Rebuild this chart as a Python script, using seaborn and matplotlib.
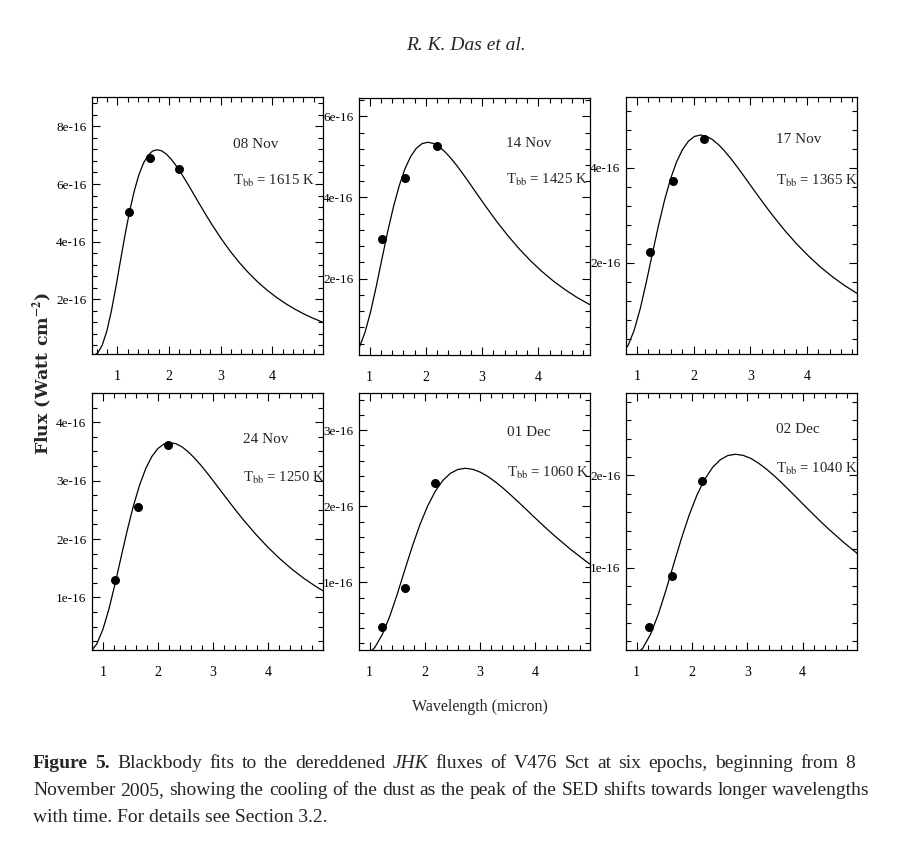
import matplotlib
matplotlib.use("Agg")
import matplotlib.pyplot as plt
import seaborn as sns
import pandas as pd
from matplotlib.ticker import MultipleLocator, FixedLocator, FixedFormatter

# epochs and fitted blackbody temperatures
epochs = ["08 Nov", "14 Nov", "17 Nov", "24 Nov", "01 Dec", "02 Dec"]
t_bb = [1615, 1425, 1365, 1250, 1060, 1040]

# JHK photometry (micron, flux in 1e-16 W cm^-2)
jhk_wave = [1.225, 1.635, 2.19]
flux_08nov = [5.02, 6.92, 6.52]
flux_14nov = [2.97, 4.47, 5.26]
flux_17nov = [2.22, 3.73, 4.60]
flux_24nov = [1.30, 2.54, 3.61]
flux_01dec = [0.41, 0.92, 2.31]
flux_02dec = [0.35, 0.91, 1.94]

# blackbody curves
bb_wave_08nov = [0.531, 0.620, 0.708, 0.797, 0.885, 0.974, 1.062, 1.151, 1.239, 1.328,
                 1.416, 1.505, 1.593, 1.682, 1.770, 1.859, 1.947, 2.036, 2.124, 2.213,
                 2.301, 2.390, 2.478, 2.567, 2.655, 2.744, 2.832, 3.009, 3.186, 3.363,
                 3.540, 3.717, 3.894, 4.071, 4.248, 4.425, 4.602, 4.779, 4.956, 5.133]
bb_flux_08nov = [0.027, 0.134, 0.406, 0.896, 1.594, 2.442, 3.354, 4.249, 5.064, 5.758,
                 6.311, 6.720, 6.993, 7.144, 7.190, 7.150, 7.040, 6.875, 6.670, 6.437,
                 6.183, 5.919, 5.648, 5.376, 5.107, 4.844, 4.589, 4.106, 3.665, 3.269,
                 2.915, 2.600, 2.322, 2.076, 1.859, 1.667, 1.498, 1.348, 1.216, 1.099]

bb_wave_14nov = [0.712, 0.814, 0.915, 1.017, 1.119, 1.220, 1.322, 1.424, 1.526, 1.627,
                 1.729, 1.831, 1.932, 2.034, 2.136, 2.237, 2.339, 2.441, 2.543, 2.644,
                 2.746, 2.848, 2.949, 3.051, 3.153, 3.254, 3.458, 3.661, 3.865, 4.068,
                 4.271, 4.475, 4.678, 4.882, 5.085]
bb_flux_14nov = [0.100, 0.303, 0.668, 1.188, 1.821, 2.500, 3.168, 3.775, 4.292, 4.704,
                 5.009, 5.213, 5.326, 5.360, 5.330, 5.249, 5.125, 4.972, 4.799, 4.610,
                 4.412, 4.210, 4.008, 3.807, 3.611, 3.421, 3.061, 2.733, 2.437, 2.173,
                 1.938, 1.731, 1.547, 1.386, 1.242]

bb_wave_17nov = [0.743, 0.849, 0.955, 1.062, 1.168, 1.274, 1.380, 1.486, 1.592, 1.698,
                 1.805, 1.911, 2.017, 2.123, 2.229, 2.335, 2.441, 2.548, 2.654, 2.760,
                 2.866, 2.972, 3.078, 3.185, 3.291, 3.397, 3.609, 3.821, 4.034, 4.246,
                 4.458, 4.671, 4.883, 5.095]
bb_flux_17nov = [0.088, 0.265, 0.584, 1.040, 1.593, 2.188, 2.772, 3.303, 3.756, 4.116,
                 4.383, 4.562, 4.660, 4.690, 4.664, 4.592, 4.485, 4.351, 4.199, 4.033,
                 3.861, 3.684, 3.507, 3.331, 3.160, 2.993, 2.678, 2.391, 2.133, 1.901,
                 1.696, 1.514, 1.354, 1.212]

bb_wave_24nov = [0.777, 0.888, 0.999, 1.110, 1.221, 1.332, 1.443, 1.554, 1.665, 1.776,
                 1.887, 1.998, 2.109, 2.220, 2.331, 2.442, 2.553, 2.664, 2.775, 2.886,
                 2.997, 3.108, 3.219, 3.330, 3.441, 3.552, 3.774, 3.996, 4.218, 4.440,
                 4.662, 4.884, 5.106]
bb_flux_24nov = [0.068, 0.206, 0.455, 0.809, 1.240, 1.703, 2.157, 2.571, 2.923, 3.204,
                 3.411, 3.550, 3.627, 3.650, 3.630, 3.574, 3.490, 3.386, 3.268, 3.139,
                 3.005, 2.867, 2.729, 2.593, 2.459, 2.329, 2.085, 1.861, 1.660, 1.480,
                 1.320, 1.179, 1.054]

bb_wave_01dec = [0.957, 1.094, 1.230, 1.367, 1.504, 1.640, 1.777, 1.914, 2.051, 2.187,
                 2.324, 2.461, 2.597, 2.734, 2.871, 3.007, 3.144, 3.281, 3.418, 3.554,
                 3.691, 3.828, 3.964, 4.101, 4.238, 4.374, 4.648, 4.921, 5.195]
bb_flux_01dec = [0.047, 0.141, 0.312, 0.554, 0.849, 1.166, 1.478, 1.761, 2.002, 2.194,
                 2.337, 2.432, 2.484, 2.500, 2.486, 2.448, 2.391, 2.319, 2.238, 2.150,
                 2.058, 1.964, 1.869, 1.776, 1.684, 1.596, 1.428, 1.275, 1.137]

bb_wave_02dec = [0.975, 1.115, 1.254, 1.394, 1.533, 1.672, 1.812, 1.951, 2.090, 2.230,
                 2.369, 2.508, 2.648, 2.787, 2.926, 3.066, 3.205, 3.344, 3.484, 3.623,
                 3.762, 3.902, 4.041, 4.181, 4.320, 4.459, 4.738, 5.017]
bb_flux_02dec = [0.042, 0.126, 0.278, 0.494, 0.758, 1.040, 1.318, 1.571, 1.786, 1.957,
                 2.084, 2.169, 2.216, 2.230, 2.218, 2.184, 2.132, 2.069, 1.997, 1.918,
                 1.836, 1.752, 1.667, 1.584, 1.502, 1.423, 1.274, 1.137]

x_ticks = [1, 2, 3, 4]
x_tick_labels = ["1", "2", "3", "4"]
y_ticks_08nov = [2, 4, 6, 8]
y_ticks_14nov = [2, 4, 6]
y_ticks_17nov = [2, 4]
y_ticks_24nov = [1, 2, 3, 4]
y_ticks_01dec = [1, 2, 3]
y_ticks_02dec = [1, 2]

points = [flux_08nov, flux_14nov, flux_17nov, flux_24nov, flux_01dec, flux_02dec]
curves = [(bb_wave_08nov, bb_flux_08nov), (bb_wave_14nov, bb_flux_14nov),
          (bb_wave_17nov, bb_flux_17nov), (bb_wave_24nov, bb_flux_24nov),
          (bb_wave_01dec, bb_flux_01dec), (bb_wave_02dec, bb_flux_02dec)]
y_ticks = [y_ticks_08nov, y_ticks_14nov, y_ticks_17nov, y_ticks_24nov, y_ticks_01dec, y_ticks_02dec]

# layout: axes box in pixels (left, top), limits, minor step, label positions
W, H = 908, 858
AX_W, AX_H = 231, 257
panels = [
    dict(box=(92, 97), xlim=(0.51, 4.98), ylim=(0.10, 9.02), ymin=0.4, txt=(0.609, 0.801, 0.659)),
    dict(box=(359, 98), xlim=(0.81, 4.92), ylim=(0.12, 6.45), ymin=0.4, txt=(0.637, 0.811, 0.665)),
    dict(box=(626, 97), xlim=(0.81, 4.88), ylim=(0.08, 5.49), ymin=0.4, txt=(0.649, 0.821, 0.659)),
    dict(box=(92, 393), xlim=(0.80, 5.00), ylim=(0.10, 4.50), ymin=0.25, txt=(0.654, 0.805, 0.656)),
    dict(box=(359, 393), xlim=(0.81, 4.99), ylim=(0.11, 3.49), ymin=0.2, txt=(0.640, 0.831, 0.675)),
    dict(box=(626, 393), xlim=(0.81, 4.98), ylim=(0.105, 2.895), ymin=0.2, txt=(0.649, 0.844, 0.691)),
]

sns.set_style("ticks")
plt.rcParams["font.family"] = ["Liberation Serif", "DejaVu Serif"]
plt.rcParams["mathtext.fontset"] = "stix"

fig = plt.figure(figsize=(W / 100, H / 100), dpi=100)

for i, p in enumerate(panels):
    left, top = p["box"]
    ax = fig.add_axes([left / W, 1 - (top + AX_H) / H, AX_W / W, AX_H / H])
    wave, flux = curves[i]
    df = pd.DataFrame({"wave": wave, "flux": flux})
    sns.lineplot(data=df, x="wave", y="flux", color="black", linewidth=0.9,
                 estimator=None, sort=False, ax=ax)
    sns.scatterplot(x=jhk_wave, y=points[i], color="black", s=42, linewidth=0, ax=ax, zorder=3)
    ax.set_xlim(*p["xlim"])
    ax.set_ylim(*p["ylim"])
    ax.set_xlabel("")
    ax.set_ylabel("")

    ax.xaxis.set_major_locator(FixedLocator(x_ticks))
    ax.xaxis.set_major_formatter(FixedFormatter(x_tick_labels))
    ax.xaxis.set_minor_locator(MultipleLocator(0.2))
    ax.yaxis.set_major_locator(FixedLocator(y_ticks[i]))
    ax.yaxis.set_major_formatter(FixedFormatter([f"{t}e-16" for t in y_ticks[i]]))
    ax.yaxis.set_minor_locator(MultipleLocator(p["ymin"]))
    ax.tick_params(which="both", direction="in", top=True, right=True, width=0.8, colors="black")
    ax.tick_params(which="major", length=6)
    ax.tick_params(which="minor", length=3.5)
    ax.tick_params(axis="x", which="major", pad=11.5, labelsize=10)
    ax.tick_params(axis="y", which="major", pad=4, labelsize=9.5)
    for s in ax.spines.values():
        s.set_linewidth(0.9)
        s.set_color("black")

    tx, ty1, ty2 = p["txt"]
    ax.text(tx, ty1, epochs[i], transform=ax.transAxes, fontsize=11, va="baseline")
    ax.text(tx, ty2, r"T$_{\mathrm{bb}}$ = " + f"{t_bb[i]} K", transform=ax.transAxes,
            fontsize=10.6, va="baseline")

fig.text(466 / W, 1 - 46 / H, "R. K. Das et al.", fontsize=14, style="italic",
         ha="center", va="center")
fig.text(480 / W, 1 - 707 / H, "Wavelength (micron)", fontsize=11.5, ha="center", va="center")
fig.text(43 / W, 1 - 374 / H, r"Flux (Watt cm$^{\mathbf{-2}}$)", fontsize=12.5, rotation=90,
         family="DejaVu Serif", fontweight="bold", ha="center", va="center")

# caption, justified like the journal page
caption = [
    ("Figure 5.  Blackbody fits to the dereddened JHK fluxes of V476 Sct at six epochs, beginning from 8", 768, 855),
    ("November 2005, showing the cooling of the dust as the peak of the SED shifts towards longer wavelengths", 795, 870),
    ("with time. For details see Section 3.2.", 822, None),
]
renderer = fig.canvas.get_renderer()
for text, y_px, x_right in caption:
    if x_right is None:
        fig.text(33 / W, 1 - y_px / H, text, fontsize=14, va="baseline")
        continue
    words = text.split()
    objs = []
    for j, w in enumerate(words):
        weight = "bold" if (y_px == 768 and j < 2) else "normal"
        style = "italic" if w == "JHK" else "normal"
        objs.append(fig.text(0, 1 - y_px / H, w, fontsize=14, va="baseline",
                             fontweight=weight, style=style))
    widths = [o.get_window_extent(renderer=renderer).width for o in objs]
    gap = (x_right - 33 - sum(widths)) / (len(words) - 1)
    x = 33
    for o, wd in zip(objs, widths):
        o.set_x(x / W)
        x += wd + gap

fig.savefig("out.png", dpi=100)
